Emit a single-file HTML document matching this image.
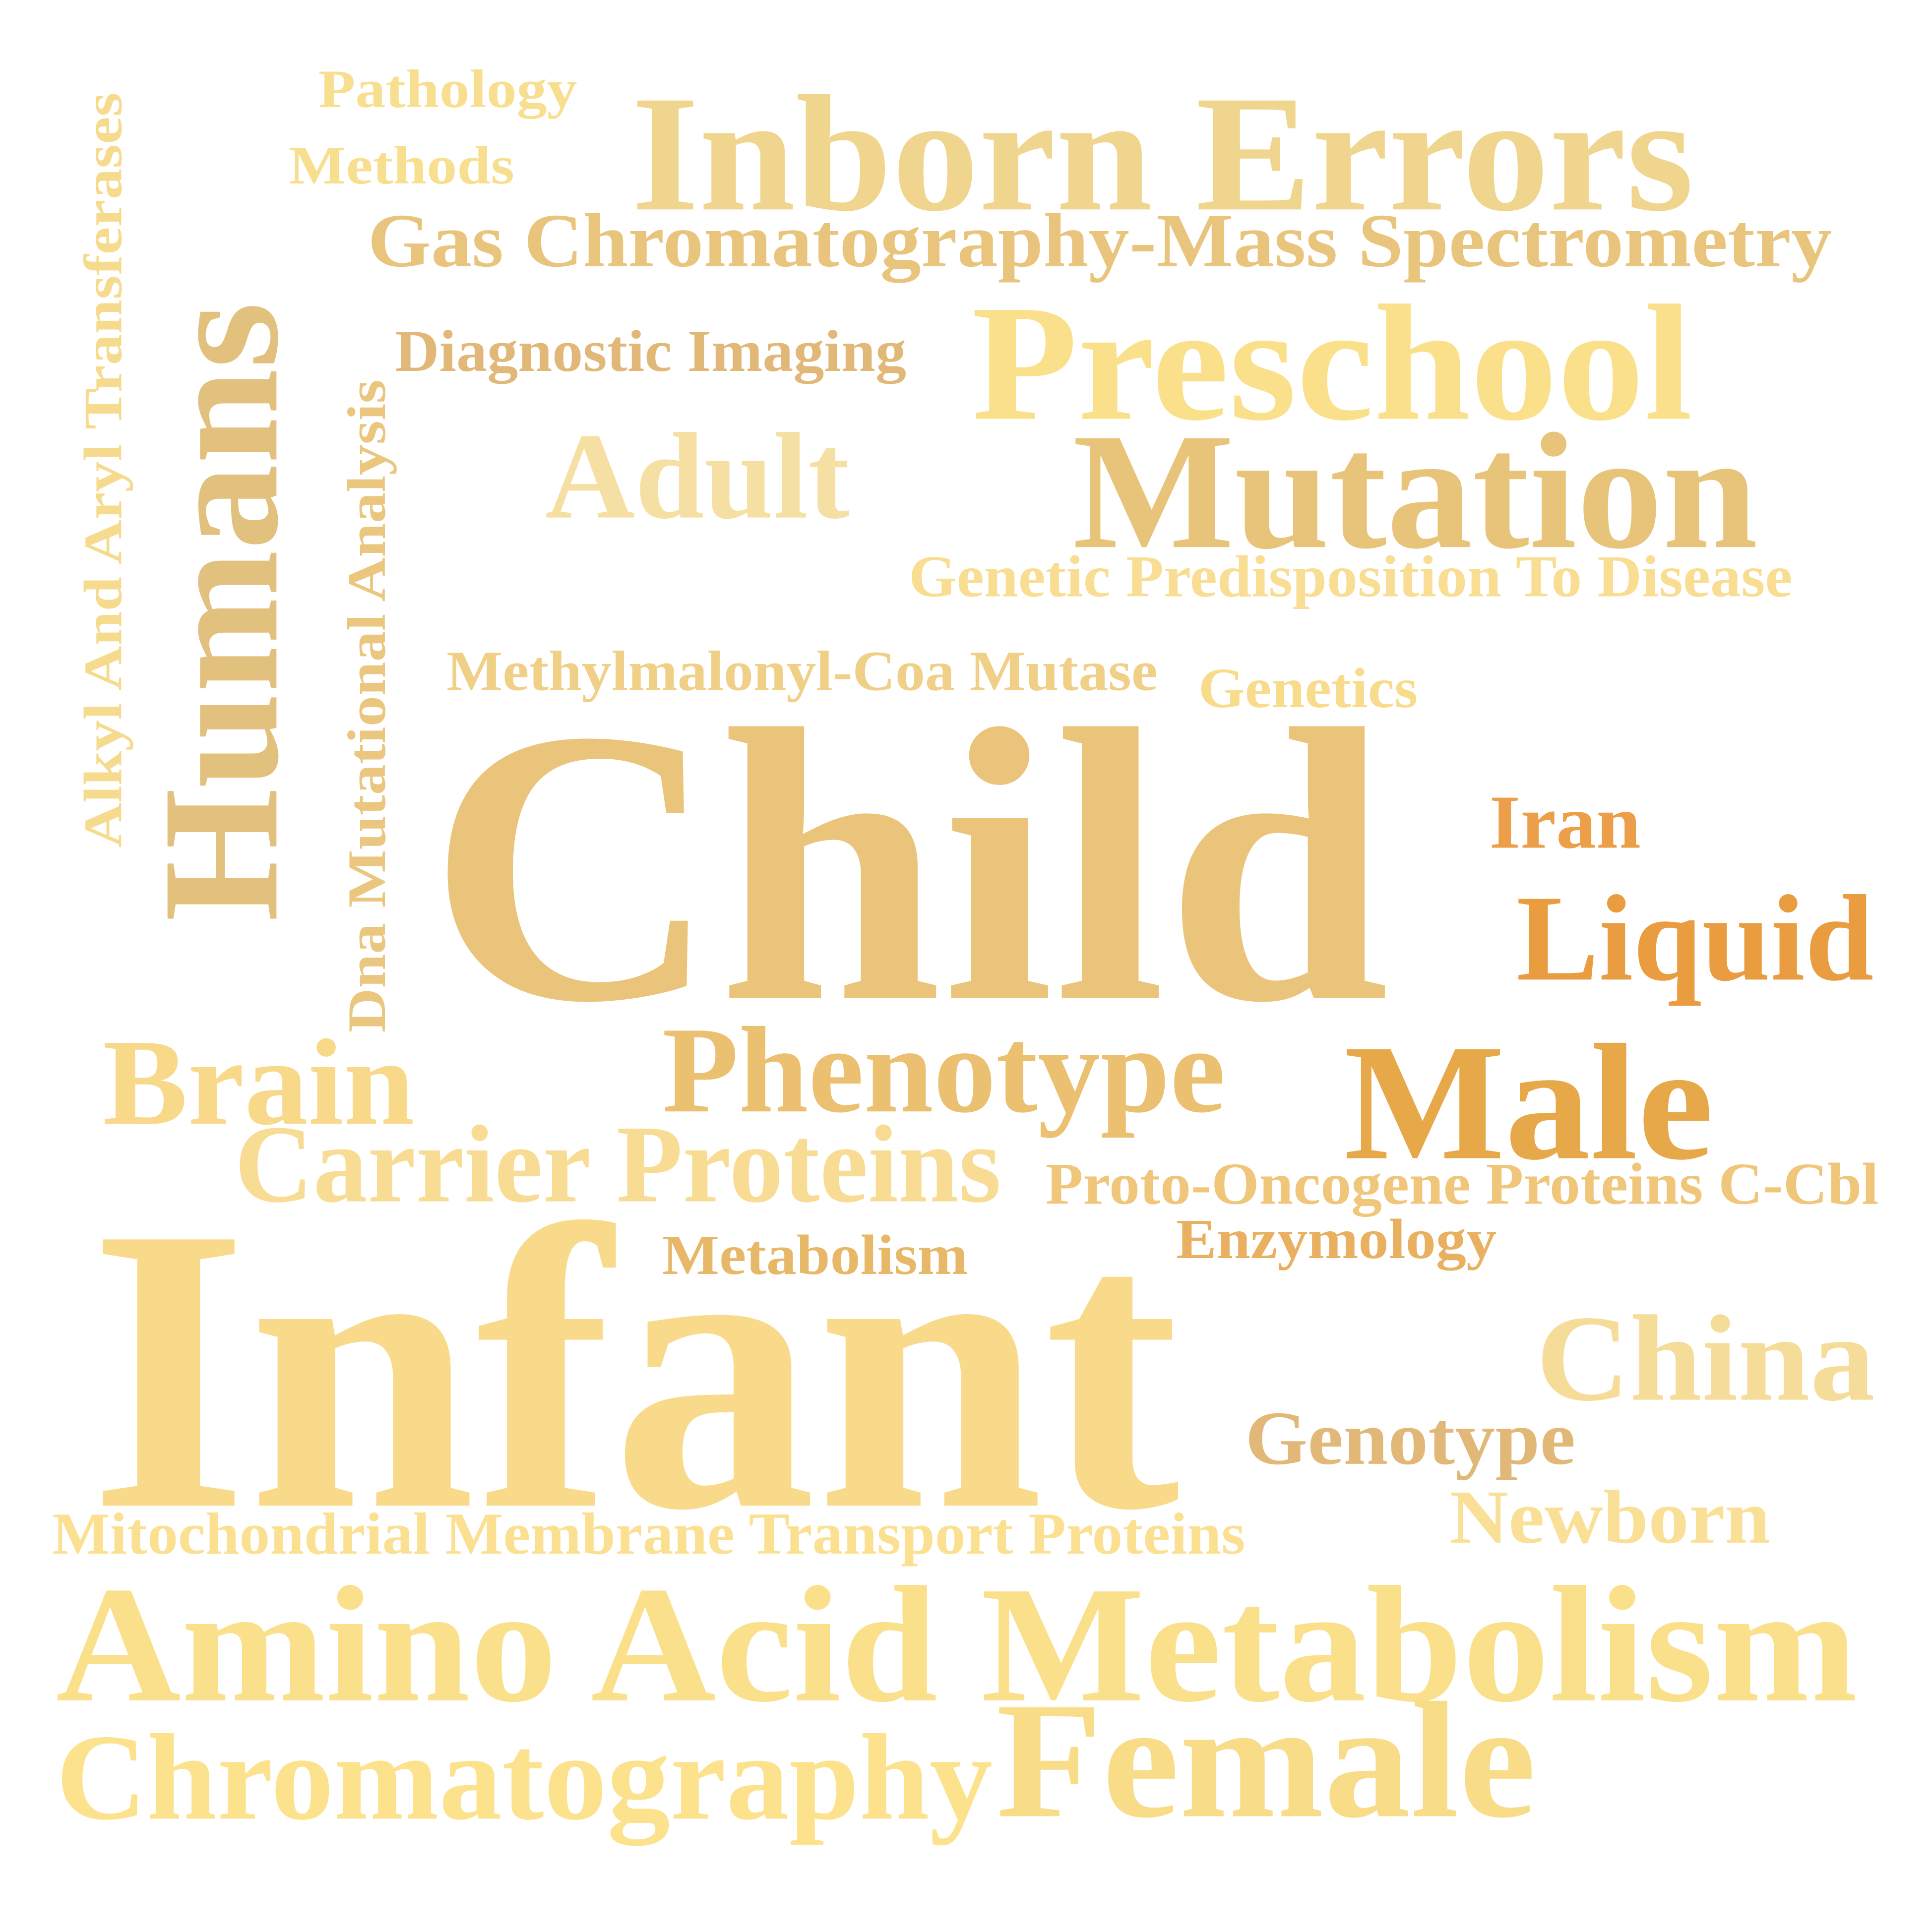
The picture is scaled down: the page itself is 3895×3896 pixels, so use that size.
<!DOCTYPE html>
<html><head><meta charset="utf-8"><style>
html,body{margin:0;padding:0;background:#fff;width:3895px;height:3896px;overflow:hidden}
svg{display:block}
text{font-family:"Liberation Serif",serif;font-weight:bold}
</style></head><body>
<svg width="3895" height="3896" viewBox="0 0 1556 1557" xmlns="http://www.w3.org/2000/svg">
<rect width="1556" height="1557" fill="#fff"/>
<g transform="scale(0.993)">
<text x="258" y="87" font-size="44" textLength="210" lengthAdjust="spacingAndGlyphs" fill="#f8df90">Pathology</text>
<text x="234" y="149" font-size="44" textLength="183" lengthAdjust="spacingAndGlyphs" fill="#f8df90">Methods</text>
<text x="512" y="170" font-size="135" textLength="862" lengthAdjust="spacingAndGlyphs" fill="#f0d58e">Inborn Errors</text>
<text x="298" y="216" font-size="62" textLength="1188" lengthAdjust="spacingAndGlyphs" fill="#e9c47c">Gas Chromatography-Mass Spectrometry</text>
<text transform="translate(98,688) rotate(-90)" font-size="44" textLength="613" lengthAdjust="spacingAndGlyphs" fill="#f6da8e">Alkyl And Aryl Transferases</text>
<text transform="translate(224,748) rotate(-90)" font-size="135" textLength="503" lengthAdjust="spacingAndGlyphs" fill="#e2c07e">Humans</text>
<text transform="translate(312,838) rotate(-90)" font-size="44" textLength="530" lengthAdjust="spacingAndGlyphs" fill="#eac67e">Dna Mutational Analysis</text>
<text x="320" y="301" font-size="48" textLength="415" lengthAdjust="spacingAndGlyphs" fill="#e2b878">Diagnostic Imaging</text>
<text x="788" y="340" font-size="135" textLength="585" lengthAdjust="spacingAndGlyphs" fill="#fbe08c">Preschool</text>
<text x="442" y="420" font-size="100" textLength="247" lengthAdjust="spacingAndGlyphs" fill="#f6dfa2">Adult</text>
<text x="870" y="444" font-size="135" textLength="556" lengthAdjust="spacingAndGlyphs" fill="#e8c47a">Mutation</text>
<text x="737" y="484" font-size="48" textLength="717" lengthAdjust="spacingAndGlyphs" fill="#f8dd92">Genetic Predisposition To Disease</text>
<text x="362" y="560" font-size="46" textLength="577" lengthAdjust="spacingAndGlyphs" fill="#f0cf86">Methylmalonyl-Coa Mutase</text>
<text x="972" y="574" font-size="46" textLength="178" lengthAdjust="spacingAndGlyphs" fill="#f8dc8c">Genetics</text>
<text x="347" y="810" font-size="318" textLength="780" lengthAdjust="spacingAndGlyphs" fill="#eac47a">Child</text>
<text x="1208" y="688" font-size="62" textLength="123" lengthAdjust="spacingAndGlyphs" fill="#ec9e48">Iran</text>
<text x="1230" y="795" font-size="100" textLength="290" lengthAdjust="spacingAndGlyphs" fill="#e99c40">Liquid</text>
<text x="83" y="912" font-size="100" textLength="253" lengthAdjust="spacingAndGlyphs" fill="#f8d98a">Brain</text>
<text x="537" y="902" font-size="100" textLength="457" lengthAdjust="spacingAndGlyphs" fill="#ebc070">Phenotype</text>
<text x="1090" y="940" font-size="135" textLength="300" lengthAdjust="spacingAndGlyphs" fill="#e6a848">Male</text>
<text x="190" y="975" font-size="90" textLength="622" lengthAdjust="spacingAndGlyphs" fill="#f8dc94">Carrier Proteins</text>
<text x="848" y="977" font-size="48" textLength="676" lengthAdjust="spacingAndGlyphs" fill="#f0c67a">Proto-Oncogene Proteins C-Cbl</text>
<text x="954" y="1021" font-size="46" textLength="260" lengthAdjust="spacingAndGlyphs" fill="#e8b060">Enzymology</text>
<text x="537" y="1034" font-size="46" textLength="248" lengthAdjust="spacingAndGlyphs" fill="#e6b868">Metabolism</text>
<text x="72" y="1222" font-size="330" textLength="885" lengthAdjust="spacingAndGlyphs" fill="#f8da8a">Infant</text>
<text x="1246" y="1136" font-size="100" textLength="275" lengthAdjust="spacingAndGlyphs" fill="#f5dc98">China</text>
<text x="1010" y="1188" font-size="62" textLength="268" lengthAdjust="spacingAndGlyphs" fill="#e2b878">Genotype</text>
<text x="1176" y="1252" font-size="62" textLength="260" lengthAdjust="spacingAndGlyphs" fill="#f9e096">Newborn</text>
<text x="42" y="1261" font-size="48" textLength="968" lengthAdjust="spacingAndGlyphs" fill="#fbe092">Mitochondrial Membrane Transport Proteins</text>
<text x="45" y="1380" font-size="135" textLength="1462" lengthAdjust="spacingAndGlyphs" fill="#fbe08c">Amino Acid Metabolism</text>
<text x="45" y="1476" font-size="100" textLength="760" lengthAdjust="spacingAndGlyphs" fill="#fde28e">Chromatography</text>
<text x="808" y="1474" font-size="135" textLength="438" lengthAdjust="spacingAndGlyphs" fill="#f8dc88">Female</text>
</g>
</svg>
</body></html>
